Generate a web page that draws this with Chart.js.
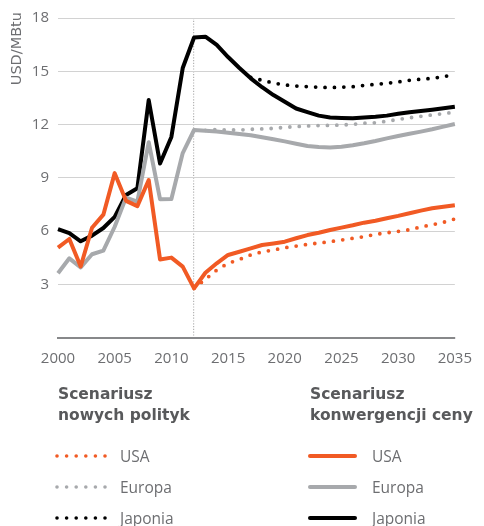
<!DOCTYPE html>
<html>
<head>
<meta charset="utf-8">
<script src="https://cdn.jsdelivr.net/npm/chart.js@4"></script>
<style>
  html, body { margin: 0; padding: 0; background: #fff; }
  canvas { display: block; }
</style>
</head>
<body>
<canvas id="chart" width="484" height="526"></canvas>
<script>
const years = [2000, 2001, 2002, 2003, 2004, 2005, 2006, 2007, 2008, 2009, 2010, 2011, 2012,
  2013, 2014, 2015, 2016, 2017, 2018, 2019, 2020, 2021, 2022, 2023, 2024, 2025,
  2026, 2027, 2028, 2029, 2030, 2031, 2032, 2033, 2034, 2035];

// Scenariusz konwergencji ceny (solid lines, include history)
const usaConvergence = [5.06, 5.55, 4.0, 6.18, 6.92, 9.26, 7.7, 7.4, 8.87, 4.4, 4.5, 3.99, 2.77,
  3.65, 4.18, 4.65, 4.83, 5.02, 5.21, 5.3, 5.4, 5.59, 5.77, 5.9, 6.06, 6.19, 6.32, 6.47, 6.58, 6.72, 6.85, 7.0, 7.15, 7.28, 7.37, 7.45];
const europeConvergence = [3.62, 4.46, 3.95, 4.69, 4.9, 6.24, 7.88, 7.65, 11.0, 7.79, 7.8, 10.39, 11.69,
  11.65, 11.6, 11.54, 11.46, 11.39, 11.28, 11.17, 11.05, 10.92, 10.79, 10.73, 10.71, 10.75, 10.83, 10.94, 11.07, 11.22, 11.35, 11.48, 11.6, 11.73, 11.88, 12.03];
const japanConvergence = [6.11, 5.88, 5.42, 5.74, 6.17, 6.8, 8.03, 8.41, 13.38, 9.8, 11.3, 15.18, 16.9,
  16.95, 16.48, 15.8, 15.18, 14.6, 14.1, 13.66, 13.28, 12.9, 12.7, 12.5, 12.4, 12.37, 12.35, 12.4, 12.44, 12.5, 12.6, 12.69, 12.76, 12.83, 12.91, 13.0];

// Scenariusz nowych polityk (dotted lines)
const usaNewPolicies = [null, null, null, null, null, null, null, null, null, null, null, null, 2.77,
  3.28, 3.8, 4.18, 4.4, 4.65, 4.82, 4.93, 5.06, 5.15, 5.25, 5.32, 5.4, 5.49, 5.59, 5.68, 5.81, 5.9, 5.98, 6.07, 6.23, 6.35, 6.49, 6.68];
const europeNewPolicies = [null, null, null, null, null, null, null, null, null, null, null, null, null,
  11.67, 11.71, 11.69, 11.69, 11.73, 11.75, 11.78, 11.84, 11.88, 11.92, 11.94, 11.95, 11.97, 12.01, 12.07, 12.1, 12.18, 12.29, 12.38, 12.46, 12.54, 12.61, 12.7];
const japanNewPolicies = [null, null, null, null, null, null, null, null, null, null, null, null, null,
  null, null, null, null, 14.65, 14.49, 14.34, 14.23, 14.17, 14.13, 14.1, 14.08, 14.1, 14.13, 14.2, 14.26, 14.32, 14.4, 14.49, 14.55, 14.6, 14.69, 14.83];

const xTickYears = [2000, 2005, 2010, 2015, 2020, 2025, 2030, 2035];
const markerYear = 2012;

const ORANGE = "#f15a24";
const GREY = "#a7a9ac";
const BLACK = "#000000";
const TEXT = "#6d6e71";
const HEAD = "#58595b";
const GRID = "#d2d2d2";
const FONT = "'Open Sans', 'DejaVu Sans', sans-serif";
const WIDE = "'DejaVu Sans', sans-serif";

const dotted = { borderWidth: 3.8, borderDash: [0, 9.4], borderCapStyle: "round" };
const solid = { borderWidth: 4, borderCapStyle: "butt", borderJoinStyle: "round" };

function line(label, data, color, style) {
  return Object.assign({ label, data, borderColor: color, backgroundColor: color,
    pointRadius: 0, tension: 0, fill: false }, style);
}

// y title and the two-column legend
const extras = {
  id: "extras",
  afterDraw(chart) {
    const { ctx } = chart;
    ctx.save();
    ctx.translate(21, 12);
    ctx.rotate(-Math.PI / 2);
    ctx.fillStyle = TEXT;
    ctx.font = "14.5px " + WIDE;
    ctx.textAlign = "right";
    ctx.textBaseline = "alphabetic";
    ctx.fillText("USD/MBtu", 0, 0);
    ctx.restore();

    ctx.save();
    ctx.fillStyle = HEAD;
    ctx.font = "bold 15.5px " + WIDE;
    ctx.textBaseline = "alphabetic";
    ctx.fillText("Scenariusz", 58, 399);
    ctx.fillText("nowych polityk", 58, 420);
    ctx.fillText("Scenariusz", 310, 399);
    ctx.fillText("konwergencji ceny", 310, 420);

    const rows = [
      { label: "USA", color: ORANGE, y: 456 },
      { label: "Europa", color: GREY, y: 487 },
      { label: "Japonia", color: BLACK, y: 518 }
    ];
    rows.forEach(r => {
      ctx.fillStyle = r.color;
      for (let i = 0; i < 6; i++) {
        ctx.beginPath();
        ctx.arc(57 + i * 9.6, r.y, 1.8, 0, Math.PI * 2);
        ctx.fill();
      }
      ctx.strokeStyle = r.color;
      ctx.lineWidth = 4;
      ctx.lineCap = "round";
      ctx.setLineDash([]);
      ctx.beginPath();
      ctx.moveTo(310, r.y);
      ctx.lineTo(355, r.y);
      ctx.stroke();

      ctx.fillStyle = TEXT;
      ctx.font = "15.5px " + FONT;
      ctx.textBaseline = "middle";
      ctx.fillText(r.label, 120, r.y + 2);
      ctx.fillText(r.label, 372, r.y + 2);
    });
    ctx.restore();
  }
};

new Chart(document.getElementById("chart"), {
  type: "line",
  data: {
    labels: years,
    datasets: [
      line("USA – konwergencja", usaConvergence, ORANGE, solid),
      line("Europa – konwergencja", europeConvergence, GREY, solid),
      line("Japonia – konwergencja", japanConvergence, BLACK, solid),
      line("USA – nowe polityki", usaNewPolicies, ORANGE, dotted),
      line("Europa – nowe polityki", europeNewPolicies, GREY, dotted),
      line("Japonia – nowe polityki", japanNewPolicies, BLACK, dotted)
    ]
  },
  options: {
    responsive: false,
    animation: false,
    events: [],
    layout: { padding: { top: 18, right: 17, bottom: 160, left: 0 } },
    plugins: { legend: { display: false }, tooltip: { enabled: false } },
    scales: {
      x: {
        type: "category",
        offset: false,
        afterFit(scale) { scale.height = 28.5; },
        grid: {
          drawTicks: false,
          lineWidth: 1.2,
          color: c => (years[c.index] === markerYear ? "#b4b4b4" : "rgba(0,0,0,0)")
        },
        border: { display: true, color: "#87888a", width: 2, dash: [1.2, 1.6] },
        ticks: {
          autoSkip: false,
          maxRotation: 0,
          padding: 12,
          color: TEXT,
          font: { family: FONT, size: 15 },
          callback(value) {
            const yr = years[value];
            return xTickYears.includes(yr) ? String(yr) : "";
          }
        }
      },
      y: {
        min: 0,
        max: 18,
        afterFit(scale) { scale.width = 58; },
        border: { display: false },
        grid: { drawTicks: false, lineWidth: 1, color: GRID },
        ticks: {
          stepSize: 3,
          padding: 9,
          color: TEXT,
          font: { family: FONT, size: 15 },
          callback: v => (v === 0 ? "" : String(v))
        }
      }
    }
  },
  plugins: [extras]
});
</script>
</body>
</html>
